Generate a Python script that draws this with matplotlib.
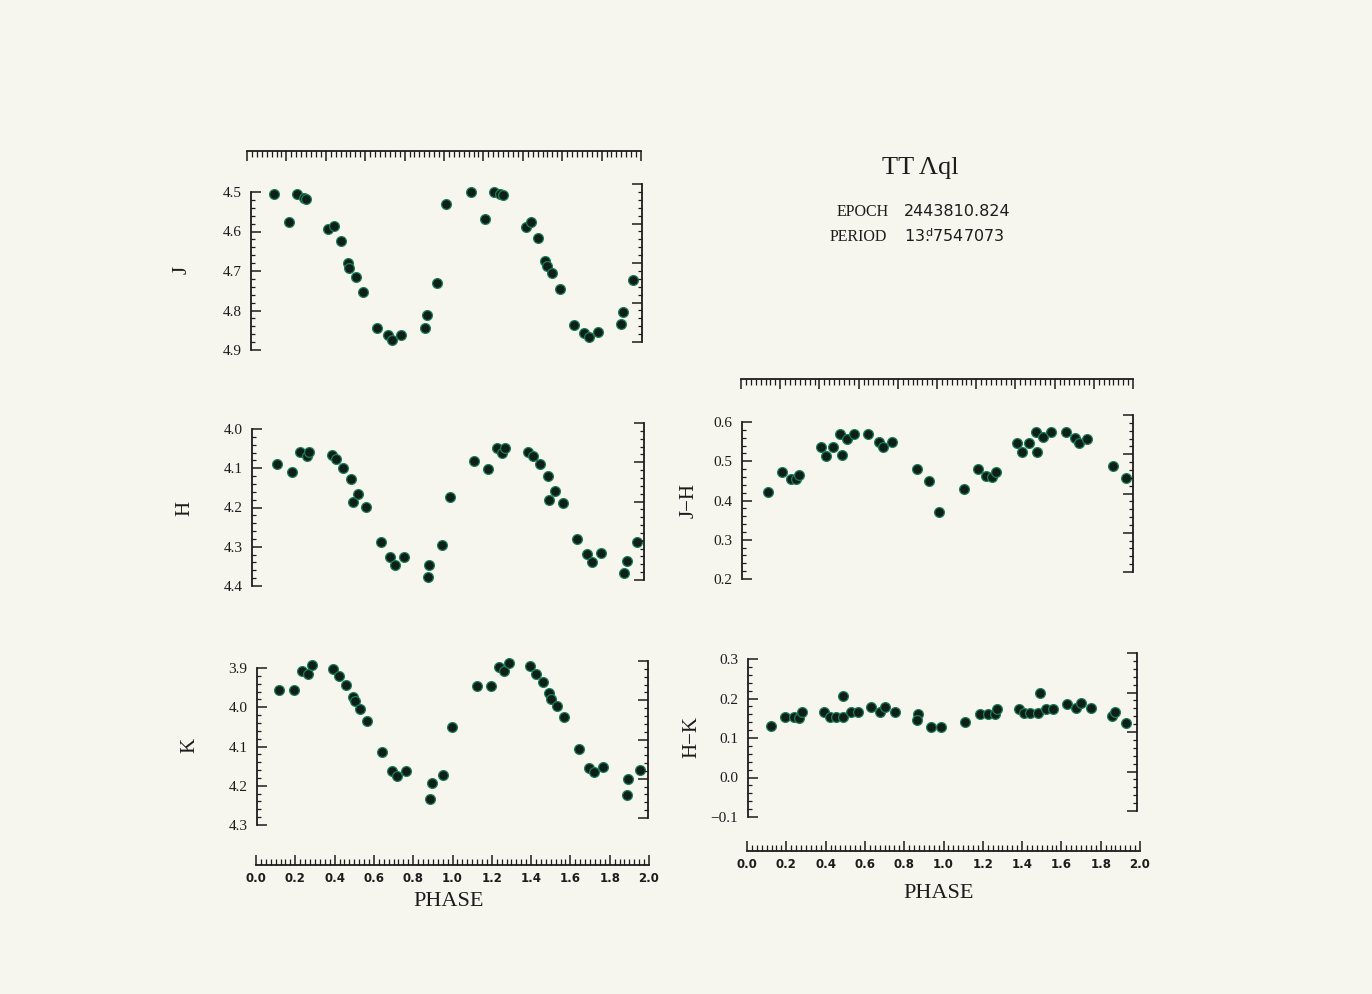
import numpy as np
import matplotlib
matplotlib.use('Agg')
import matplotlib.pyplot as plt
from matplotlib.ticker import MultipleLocator

# TT Aql near-infrared light curves, two cycles in phase
phase_J = [0.119, 0.194, 0.234, 0.271, 0.281, 0.392, 0.425, 0.459, 0.495, 0.503,
           0.535, 0.575, 0.646, 0.699, 0.719, 0.766, 0.890, 0.899, 0.953, 0.997,
           1.125, 1.199, 1.241, 1.274, 1.287, 1.405, 1.432, 1.466, 1.504, 1.512,
           1.540, 1.579, 1.654, 1.705, 1.729, 1.773, 1.893, 1.901, 1.956]
mag_J = [4.506, 4.577, 4.504, 4.514, 4.517, 4.594, 4.585, 4.624, 4.681, 4.693,
         4.714, 4.754, 4.844, 4.863, 4.875, 4.863, 4.844, 4.812, 4.730, 4.530,
         4.500, 4.568, 4.499, 4.506, 4.507, 4.588, 4.576, 4.616, 4.674, 4.687,
         4.706, 4.746, 4.837, 4.856, 4.868, 4.854, 4.834, 4.804, 4.723]

phase_H = [0.129, 0.204, 0.245, 0.279, 0.292, 0.406, 0.429, 0.466, 0.505, 0.514,
           0.542, 0.582, 0.656, 0.704, 0.730, 0.777, 0.900, 0.905, 0.968, 1.010,
           1.133, 1.206, 1.252, 1.274, 1.293, 1.408, 1.435, 1.469, 1.508, 1.517,
           1.546, 1.585, 1.657, 1.709, 1.735, 1.779, 1.900, 1.912, 1.963]
mag_H = [4.090, 4.110, 4.059, 4.068, 4.058, 4.066, 4.077, 4.100, 4.127, 4.187,
         4.166, 4.198, 4.288, 4.327, 4.347, 4.327, 4.376, 4.346, 4.296, 4.174,
         4.082, 4.103, 4.049, 4.060, 4.049, 4.059, 4.070, 4.090, 4.121, 4.181,
         4.158, 4.189, 4.279, 4.318, 4.339, 4.317, 4.368, 4.336, 4.287]

phase_K = [0.114, 0.191, 0.229, 0.259, 0.280, 0.387, 0.418, 0.454, 0.489, 0.501,
           0.529, 0.564, 0.641, 0.692, 0.716, 0.760, 0.885, 0.893, 0.953, 0.997,
           1.124, 1.197, 1.238, 1.265, 1.287, 1.396, 1.427, 1.461, 1.495, 1.506,
           1.533, 1.572, 1.649, 1.700, 1.724, 1.768, 1.891, 1.899, 1.959]
mag_K = [3.957, 3.957, 3.907, 3.916, 3.892, 3.903, 3.920, 3.943, 3.973, 3.985,
         4.005, 4.035, 4.114, 4.163, 4.176, 4.163, 4.233, 4.193, 4.172, 4.051,
         3.947, 3.947, 3.897, 3.908, 3.887, 3.894, 3.915, 3.935, 3.964, 3.979,
         3.996, 4.025, 4.106, 4.155, 4.166, 4.152, 4.224, 4.182, 4.161]

phase_JH = [0.131, 0.203, 0.249, 0.276, 0.293, 0.402, 0.430, 0.464, 0.501, 0.510,
            0.536, 0.573, 0.646, 0.701, 0.720, 0.769, 0.893, 0.958, 1.009,
            1.136, 1.209, 1.248, 1.280, 1.298, 1.408, 1.434, 1.470, 1.502, 1.510,
            1.541, 1.579, 1.656, 1.703, 1.725, 1.766, 1.899, 1.964]
col_JH = [0.422, 0.473, 0.454, 0.454, 0.465, 0.537, 0.514, 0.537, 0.569, 0.516,
          0.557, 0.569, 0.569, 0.550, 0.537, 0.550, 0.479, 0.450, 0.370,
          0.429, 0.480, 0.462, 0.461, 0.473, 0.546, 0.524, 0.546, 0.574, 0.524,
          0.563, 0.574, 0.575, 0.558, 0.546, 0.557, 0.488, 0.457]

phase_HK = [0.116, 0.189, 0.235, 0.262, 0.278, 0.389, 0.423, 0.454, 0.488, 0.491,
            0.530, 0.564, 0.633, 0.680, 0.706, 0.757, 0.876, 0.871, 0.943, 0.991,
            1.115, 1.192, 1.234, 1.269, 1.280, 1.391, 1.420, 1.451, 1.490, 1.499,
            1.531, 1.570, 1.638, 1.685, 1.710, 1.766, 1.874, 1.886, 1.945]
col_HK = [0.130, 0.154, 0.154, 0.150, 0.167, 0.167, 0.154, 0.154, 0.154, 0.207,
          0.167, 0.167, 0.178, 0.167, 0.179, 0.167, 0.161, 0.146, 0.129, 0.129,
          0.141, 0.161, 0.161, 0.161, 0.173, 0.173, 0.164, 0.164, 0.164, 0.215,
          0.173, 0.173, 0.185, 0.175, 0.188, 0.175, 0.156, 0.167, 0.137]

phase_ticks = [0.0, 0.2, 0.4, 0.6, 0.8, 1.0, 1.2, 1.4, 1.6, 1.8, 2.0]

W, H = 1372, 994
BG = '#f6f5ee'
INK = '#1c1c1c'
SERIF = 'Liberation Serif'
SANS = 'DejaVu Sans'

fig = plt.figure(figsize=(W / 100, H / 100), dpi=100, facecolor=BG)


def px_axes(l, t, r, b):
    ax = fig.add_axes([l / W, 1 - b / H, (r - l) / W, (b - t) / H])
    ax.patch.set_alpha(0)
    for s in ax.spines.values():
        s.set_visible(False)
    return ax


def panel(box, rshift, ylim, x, y):
    l, t, r, b = box
    ax = px_axes(l, t, r, b)
    ax.set_xlim(0, 2)
    ax.set_ylim(*ylim)
    ax.spines['left'].set_visible(True)
    ax.spines['left'].set_linewidth(1.3)
    ax.spines['left'].set_color(INK)
    ax.set_xticks([])
    ax.yaxis.set_major_locator(MultipleLocator(0.1))
    ax.yaxis.set_minor_locator(MultipleLocator(0.02))
    ax.tick_params(axis='y', which='major', direction='in', length=7, width=1.1,
                   pad=7, labelsize=11, colors=INK)
    ax.tick_params(axis='y', which='minor', direction='in', length=3, width=0.9, colors=INK)
    for lab in ax.get_yticklabels():
        lab.set_family(SERIF)
    ax.scatter(x, y, s=50, c='#0d1f18', edgecolors='#1f7d57', linewidths=0.9,
               zorder=3, clip_on=False)

    # detached right-hand bracket, ticks pointing into the panel
    axr = px_axes(r - 1, t - rshift, r, b - rshift)
    axr.set_ylim(*ylim)
    axr.set_xticks([])
    axr.spines['right'].set_visible(True)
    axr.spines['right'].set_linewidth(1.3)
    axr.spines['right'].set_color(INK)
    axr.yaxis.tick_right()
    axr.yaxis.set_major_locator(MultipleLocator(0.1))
    axr.yaxis.set_minor_locator(MultipleLocator(0.02))
    axr.tick_params(axis='y', which='major', direction='in', length=7, width=1.1,
                    labelright=False, colors=INK)
    axr.tick_params(axis='y', which='minor', direction='in', length=3, width=0.9,
                    colors=INK)
    return ax


def strip(l, r, y, top=True, labels=False):
    ax = px_axes(l, y - 1, r, y + 1)
    ax.set_xlim(0, 2)
    ax.set_yticks([])
    side = 'top' if top else 'bottom'
    ax.spines[side].set_visible(True)
    ax.spines[side].set_linewidth(1.3)
    ax.spines[side].set_color(INK)
    ax.xaxis.set_ticks_position(side)
    ax.set_xticks(phase_ticks)
    ax.xaxis.set_minor_locator(MultipleLocator(0.025))
    ax.tick_params(axis='x', which='major', direction='in', length=7, width=1.1,
                   colors=INK, pad=5)
    ax.tick_params(axis='x', which='minor', direction='in', length=4, width=0.9,
                   colors=INK)
    if labels:
        ax.set_xticklabels([f'{v:.1f}' for v in phase_ticks], fontsize=8.5,
                           fontweight='bold', family=SANS)
    else:
        ax.set_xticklabels([])
    return ax


# left column: J, H, K
panel((251, 192, 642, 350), 8, (4.9, 4.5), phase_J, mag_J)
panel((252, 429, 644, 586), 6, (4.4, 4.0), phase_H, mag_H)
panel((257, 668, 648, 825), 7, (4.3, 3.9), phase_K, mag_K)
strip(247, 641, 152, top=True)
strip(256, 649, 864, top=False, labels=True)

# right column: colours
panel((742, 422, 1133, 579), 7, (0.2, 0.6), phase_JH, col_JH)
panel((748, 659, 1137, 817), 6, (-0.1, 0.3), phase_HK, col_HK)
strip(741, 1133, 380, top=True)
strip(747, 1140, 850, top=False, labels=True)


def ftext(x, y, s, **kw):
    return fig.text(x / W, 1 - y / H, s, color=INK, **kw)


ftext(182, 270, 'J', rotation=90, ha='center', va='center', fontsize=15, family=SERIF)
ftext(185, 508, 'H', rotation=90, ha='center', va='center', fontsize=15, family=SERIF)
ftext(190, 745, 'K', rotation=90, ha='center', va='center', fontsize=15, family=SERIF)
ftext(689, 500, 'J\u2212H', rotation=90, ha='center', va='center', fontsize=15, family=SERIF)
ftext(692, 737, 'H\u2212K', rotation=90, ha='center', va='center', fontsize=15, family=SERIF)
ftext(449, 901, 'PHASE', ha='center', va='center', fontsize=16, family=SERIF)
ftext(939, 893, 'PHASE', ha='center', va='center', fontsize=16, family=SERIF)

ftext(920, 168, 'TT \u039bql', ha='center', va='center', fontsize=19, family=SERIF)
ftext(889, 212, 'EPOCH', ha='right', va='center', fontsize=11.5, family=SERIF)
ftext(904, 211, '2443810.824', ha='left', va='center', fontsize=11.5, family=SANS)
ftext(887, 237, 'PERIOD', ha='right', va='center', fontsize=11.5, family=SERIF)
ftext(904, 236, r'13$\overset{\mathrm{d}}{.}$7547073', ha='left', va='center',
      fontsize=11.5, family=SANS)

fig.savefig('out.png', dpi=100, facecolor=BG)
